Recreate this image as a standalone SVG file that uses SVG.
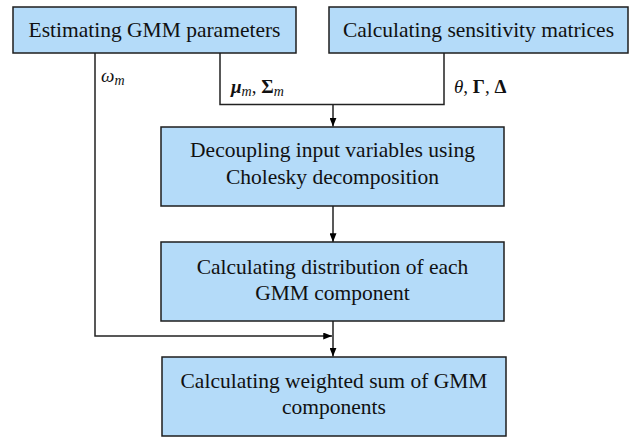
<svg xmlns="http://www.w3.org/2000/svg" width="635" height="437" viewBox="0 0 635 437">
<style>
.box{fill:#b4dbf9;stroke:#1e1e1e;stroke-width:1.5}
.t{font-family:'Liberation Serif','Times New Roman',Times,serif;font-size:21.5px;fill:#111;text-anchor:middle}
.l{font-family:'Liberation Serif','Times New Roman',Times,serif;font-size:19px;fill:#111}
.c{fill:none;stroke:#222;stroke-width:1.5}
</style>
<defs>
<marker id="ah" viewBox="0 0 10 8" refX="10" refY="4" markerWidth="9" markerHeight="7" markerUnits="userSpaceOnUse" orient="auto">
<path d="M0,0 L10,4 L0,8 Z" fill="#000"/>
</marker>
</defs>
<g id="connectors">
<path class="c" d="M95,53 V336 H332" marker-end="url(#ah)"/>
<path class="c" d="M220,53 V104.5 H444 V53"/>
<path class="c" d="M333,104.5 V126.5" marker-end="url(#ah)"/>
<path class="c" d="M333,206 V242" marker-end="url(#ah)"/>
<path class="c" d="M333,321 V356.5" marker-end="url(#ah)"/>
</g>
<g id="labels">
<text class="l" x="101" y="82"><tspan font-style="italic">ω</tspan><tspan font-style="italic" font-size="14" dy="3">m</tspan></text>
<text class="l" x="231" y="93"><tspan font-style="italic" font-weight="bold">μ</tspan><tspan font-style="italic" font-size="14" dy="3">m</tspan><tspan dy="-3">, </tspan><tspan font-weight="bold">Σ</tspan><tspan font-style="italic" font-size="14" dy="3">m</tspan></text>
<text class="l" x="454" y="93"><tspan font-style="italic">θ</tspan>, <tspan font-weight="bold">Γ</tspan>, <tspan font-weight="bold">Δ</tspan></text>
</g>
<g id="n1">
<rect class="box" x="13" y="7" width="283" height="46"/>
<text class="t" x="154.5" y="37">Estimating GMM parameters</text>
</g>
<g id="n2">
<rect class="box" x="329" y="7" width="299" height="46"/>
<text class="t" x="478.5" y="37">Calculating sensitivity matrices</text>
</g>
<g id="n3">
<rect class="box" x="161" y="127" width="343" height="79"/>
<text class="t" x="332.5" y="157">Decoupling input variables using</text>
<text class="t" x="332.5" y="184">Cholesky decomposition</text>
</g>
<g id="n4">
<rect class="box" x="161" y="242" width="343" height="79"/>
<text class="t" x="332.5" y="274">Calculating distribution of each</text>
<text class="t" x="332.5" y="300">GMM component</text>
</g>
<g id="n5">
<rect class="box" x="162" y="357" width="344" height="79"/>
<text class="t" x="334" y="388">Calculating weighted sum of GMM</text>
<text class="t" x="334" y="414">components</text>
</g>
</svg>
